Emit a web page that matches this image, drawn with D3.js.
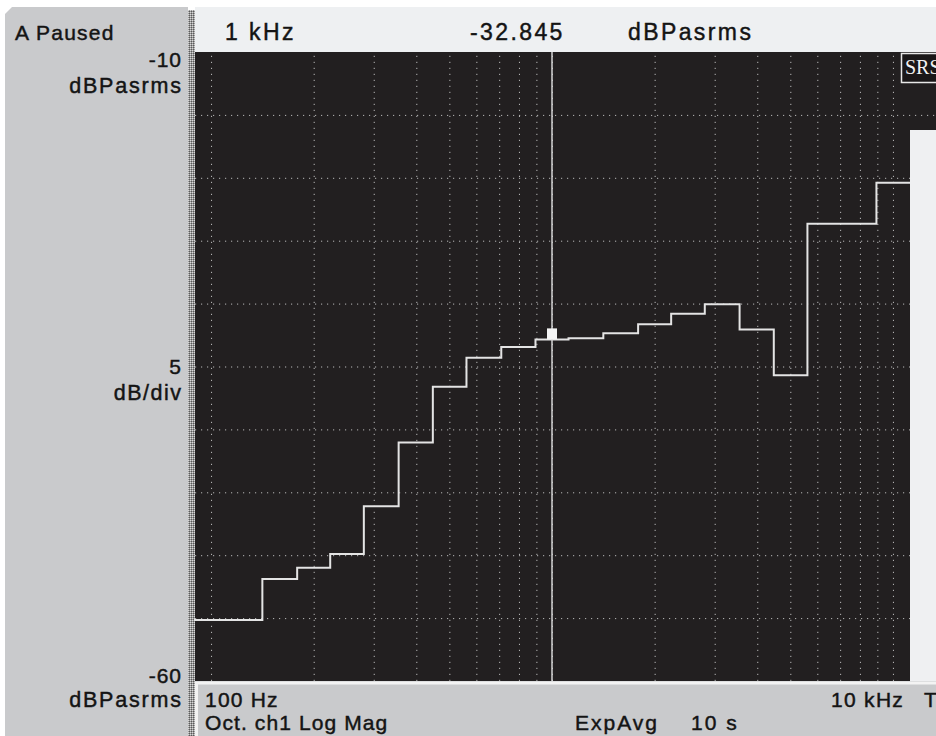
<!DOCTYPE html>
<html>
<head>
<meta charset="utf-8">
<script src="https://cdn.jsdelivr.net/npm/d3@7"></script>
<style>
  body { margin: 0; background: #fff; }
  svg { display: block; }
  text { font-family: "Liberation Sans", Arial, sans-serif; fill: #141414; stroke: #141414; stroke-width: 0.45px; }
</style>
</head>
<body>
<svg id="chart"></svg>
<script>
// 1/3 octave band centres (Hz) and measured levels (dBPasrms)
const bandCenters = [100, 125, 160, 200, 250, 315, 400, 500, 630, 800, 1000,
  1250, 1600, 2000, 2500, 3150, 4000, 5000, 6300, 8000, 10000];
const bandLevels = [-55.15, -55.15, -51.9, -51.0, -49.9, -46.1, -41.05, -36.6, -34.3, -33.45, -32.845,
  -32.75, -32.35, -31.65, -30.8, -30.05, -32.05, -35.7, -23.65, -23.65, -20.4];

// cursor readout
const cursorFreq = 1000;
const cursorValue = -32.845;
const cursorUnit = "dBPasrms";

// axis settings shown on the left / bottom panels
const yTop = -10, yBottom = -60, yDiv = 5;
const xStartLabel = "100 Hz", xEndLabel = "10 kHz";
const traceLabel = "Oct. ch1 Log Mag";
const avgLabel = "ExpAvg", avgTime = "10 s";

const W = 936, H = 736;
const plot = { left: 194, right: 910, top: 52, bottom: 681 };

const svg = d3.select("#chart").attr("width", W).attr("height", H);

// scales: bands run from the lower edge of 100 Hz to the upper edge of 10 kHz
const xScale = d3.scaleLog()
  .domain([bandCenters[0] / Math.pow(10, 0.05), bandCenters[bandCenters.length - 1] * Math.pow(10, 0.05)])
  .range([plot.left, plot.right]);
const yScale = d3.scaleLinear()
  .domain([yBottom, yTop])
  .range([plot.bottom, plot.top]);

// hatch pattern for the panel separator
const defs = svg.append("defs");
const pat = defs.append("pattern").attr("id", "hatch")
  .attr("width", 2).attr("height", 2).attr("patternUnits", "userSpaceOnUse");
pat.append("rect").attr("width", 2).attr("height", 2).attr("fill", "#9a9a9a");
pat.append("rect").attr("width", 1).attr("height", 1).attr("fill", "#d8d8d8");
pat.append("rect").attr("x", 1).attr("y", 1).attr("width", 1).attr("height", 1).attr("fill", "#5a5a5a");

// left panel
svg.append("path")
  .attr("d", "M5,14 L12,7 L188,7 L188,736 L5,736 Z")
  .attr("fill", "#c9cacc");
svg.append("rect").attr("x", 188).attr("y", 10).attr("width", 7).attr("height", H - 10)
  .attr("fill", "url(#hatch)");

// top readout bar
svg.append("rect").attr("x", 195).attr("y", 7).attr("width", W - 195).attr("height", plot.top - 7)
  .attr("fill", "#eef0f2");

// plot background (extends to the right edge above the side panel)
svg.append("rect").attr("x", plot.left + 1).attr("y", plot.top).attr("width", W - plot.left - 1)
  .attr("height", plot.bottom - plot.top).attr("fill", "#221f20");

// grid
const gridFreqs = xScale.ticks().filter(f => f >= 100 && f <= 10000);
const gridLevels = yScale.ticks(10).filter(v => v > yBottom && v < yTop);

const xGrid = svg.append("g")
  .attr("transform", "translate(0," + plot.bottom + ")")
  .call(d3.axisBottom(xScale).tickValues(gridFreqs).tickSize(-(plot.bottom - plot.top)).tickFormat(""));
const yGrid = svg.append("g")
  .attr("transform", "translate(" + (plot.left + 1) + ",0)")
  .call(d3.axisLeft(yScale).tickValues(gridLevels).tickSize(-(W - plot.left)).tickFormat(""));
[xGrid, yGrid].forEach(g => {
  g.select(".domain").remove();
  g.selectAll(".tick line")
    .attr("stroke", "#b8b8b8")
    .attr("stroke-width", 1)
    .attr("stroke-dasharray", "1.2,4.8");
});

// side panel on the right
svg.append("rect").attr("x", plot.right).attr("y", 130).attr("width", W - plot.right)
  .attr("height", plot.bottom - 130).attr("fill", "#eff0f2");

// SRS badge
svg.append("rect").attr("x", 901.5).attr("y", 53.5).attr("width", 40).attr("height", 29)
  .attr("fill", "#1a1718").attr("stroke", "#e8e8e8").attr("stroke-width", 1.5);
svg.append("text").attr("x", 905).attr("y", 74)
  .style("font-family", "'Liberation Serif', 'DejaVu Serif', serif")
  .style("font-size", "20px").style("fill", "#f2f2f2").style("stroke", "none")
  .text("SRS");

// step trace built from the band edges
const edges = bandCenters.map((c, i) => i === 0 ? c / Math.pow(10, 0.05) : Math.sqrt(bandCenters[i - 1] * c));
edges.push(bandCenters[bandCenters.length - 1] * Math.pow(10, 0.05));
const tracePts = edges.map((e, i) => [e, bandLevels[Math.min(i, bandLevels.length - 1)]]);

const line = d3.line()
  .x(d => xScale(d[0]))
  .y(d => yScale(d[1]))
  .curve(d3.curveStepAfter);

svg.append("path")
  .datum(tracePts)
  .attr("d", line)
  .attr("fill", "none")
  .attr("stroke", "#e4e4e4")
  .attr("stroke-width", 2);

// cursor
const cx = xScale(cursorFreq), cy = yScale(cursorValue);
svg.append("line")
  .attr("x1", cx).attr("x2", cx).attr("y1", plot.top).attr("y2", plot.bottom)
  .attr("stroke", "#d4d4d4").attr("stroke-width", 1.5);
svg.append("rect")
  .attr("x", cx - 5).attr("y", cy - 11).attr("width", 10).attr("height", 11)
  .attr("fill", "#f4f4f4");

// bottom status bar
svg.append("rect").attr("x", 195).attr("y", plot.bottom).attr("width", W - 195).attr("height", H - plot.bottom)
  .attr("fill", "#c9cacc");
svg.append("line").attr("x1", 195).attr("x2", W).attr("y1", plot.bottom + 2).attr("y2", plot.bottom + 2)
  .attr("stroke", "#f3f3f3").attr("stroke-width", 3);
svg.append("line").attr("x1", 196.5).attr("x2", 196.5).attr("y1", plot.bottom + 1).attr("y2", H)
  .attr("stroke", "#f3f3f3").attr("stroke-width", 3);

// texts
function label(x, y, txt, opts) {
  opts = opts || {};
  const size = opts.size || 21;
  const ls = opts.ls != null ? opts.ls : 1.5;
  const t = svg.append("text")
    .attr("x", x).attr("y", y)
    .style("font-size", size + "px")
    .style("letter-spacing", ls + "px")
    .text(txt);
  if (opts.end) t.attr("text-anchor", "end").attr("dx", ls);
  return t;
}

const fmtFreq = f => f >= 1000 ? (f / 1000) + " kHz" : f + " Hz";

label(15, 40, "A Paused", { ls: 1.2 });
label(181, 67, String(yTop), { end: true, size: 21, ls: 1 });
label(181, 93, cursorUnit, { end: true, size: 21.5, ls: 1.8 });
label(181, 374, String(yDiv), { end: true, size: 21 });
label(181, 400, "dB/div", { end: true, size: 21.5, ls: 1.5 });
label(181, 683, String(yBottom), { end: true, size: 21, ls: 1 });
label(181, 707, cursorUnit, { end: true, size: 21.5, ls: 1.8 });

label(225, 40, fmtFreq(cursorFreq), { size: 23, ls: 2.4 });
label(470, 40, cursorValue.toFixed(3), { size: 23, ls: 2.4 });
label(628, 40, cursorUnit, { size: 23, ls: 2.4 });

label(205, 707, xStartLabel, { ls: 1.2 });
label(205, 730, traceLabel, { ls: 1.1 });
label(831, 707, xEndLabel, { ls: 1.3 });
label(924, 707, "T", { ls: 0 });
label(575, 730, avgLabel, { ls: 2 });
label(691, 730, avgTime, { ls: 2 });
</script>
</body>
</html>
